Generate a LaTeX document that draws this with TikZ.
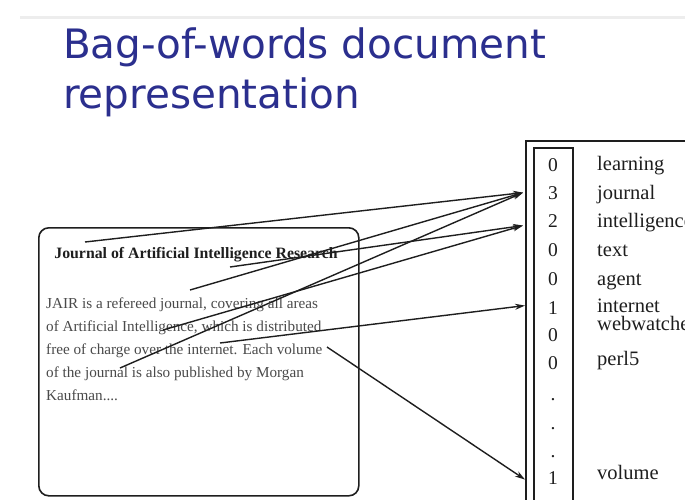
\documentclass[tikz,border=0pt]{standalone}
\usepackage{fontspec}
\setmainfont{Liberation Serif}
\newfontfamily\titlefont{DejaVu Sans}
\usetikzlibrary{arrows.meta}
\definecolor{titleblue}{HTML}{2B2F8E}
\definecolor{bodygray}{HTML}{4A4A4A}
\definecolor{inkgray}{HTML}{1E1E1E}
\begin{document}
\begin{tikzpicture}[x=1pt,y=-1pt,
  titletext/.style={anchor=base west, inner sep=0, text=titleblue, font=\titlefont\fontsize{40.5}{42}\selectfont},
  boxline/.style={draw=inkgray, line width=1.6pt},
  doctitle/.style={anchor=base, inner sep=0, text=inkgray, font=\bfseries\fontsize{15.8}{18}\selectfont},
  doctext/.style={anchor=base west, inner sep=0, text=bodygray, font=\fontsize{15.2}{18}\selectfont},
  numtext/.style={anchor=base, inner sep=0, text=inkgray, font=\fontsize{19.5}{20}\selectfont},
  wordtext/.style={anchor=base west, inner sep=0, text=inkgray, font=\fontsize{20.5}{22}\selectfont},
  arr/.style={draw=inkgray, line width=1.4pt, -{Stealth[length=10pt,width=6pt]}}
]
\useasboundingbox (0,0) rectangle (685,499);
\clip (0,0) rectangle (685,499);
\fill[white] (0,0) rectangle (685,499);
% faint top rule
\draw[black!7, line width=3pt] (20,17) -- (685,17);
% title
\node[titletext] (t1) at (63,58) {Bag-of-words document};
\node[titletext] (t2) at (63,108) {representation};
% document box
\node[boxline, rounded corners=10pt, minimum width=320pt, minimum height=268pt, anchor=north west, inner sep=0] (doc) at (38,227) {};
\node[doctitle] (dt) at (196,258) {Journal of Artificial Intelligence Research};
\node[doctext] (l1) at (46,308) {JAIR is a refereed journal, covering all areas};
\node[doctext] (l2) at (46,331) {of Artificial Intelligence, which is distributed};
\node[doctext] (l3) at (46,354) {free of charge over the internet. Each volume};
\node[doctext] (l4) at (46,377) {of the journal is also published by Morgan};
\node[doctext] (l5) at (46,400) {Kaufman....};
% vector frames
\node[boxline, minimum width=200pt, minimum height=420pt, anchor=north west, inner sep=0] (outer) at (525,140) {};
\node[boxline, minimum width=39pt, minimum height=420pt, anchor=north west, inner sep=0] (inner) at (533,147) {};
% counts
\node[numtext] (n1) at (553,171) {0};
\node[numtext] (n2) at (553,199) {3};
\node[numtext] (n3) at (553,227) {2};
\node[numtext] (n4) at (553,256) {0};
\node[numtext] (n5) at (553,285) {0};
\node[numtext] (n6) at (553,314) {1};
\node[numtext] (n7) at (553,341) {0};
\node[numtext] (n8) at (553,369) {0};
\node[numtext] (d1) at (553,400) {.};
\node[numtext] (d2) at (553,429) {.};
\node[numtext] (d3) at (553,457) {.};
\node[numtext] (n9) at (553,484) {1};
% words
\node[wordtext] (w1) at (597,170) {learning};
\node[wordtext] (w2) at (597,199) {journal};
\node[wordtext] (w3) at (597,227) {intelligence};
\node[wordtext] (w4) at (597,256) {text};
\node[wordtext] (w5) at (597,285) {agent};
\node[wordtext] (w6) at (597,312) {internet};
\node[wordtext] (w7) at (597,330) {webwatcher};
\node[wordtext] (w8) at (597,365) {perl5};
\node[wordtext] (w9) at (597,479) {volume};
% arrow sources
\coordinate (sJt) at (85,242);
\coordinate (sIt) at (230,267);
\coordinate (sJ1) at (190,290);
\coordinate (sI2) at (163,330);
\coordinate (sN3) at (220,343);
\coordinate (sV3) at (327,347);
\coordinate (sJ4) at (120,368);
% arrow targets on the outer frame
\coordinate (tJ) at (outer.west |- n2);
\coordinate (tI) at ([yshift=-5pt]outer.west |- n3);
\coordinate (tN) at ([yshift=2pt]outer.west |- n6);
\coordinate (tV) at ([yshift=-2pt]outer.west |- n9);
\draw[arr] (sJt) -- ([xshift=-2pt]tJ);
\draw[arr] (sJ1) -- ([xshift=-2pt]tJ);
\draw[arr] (sJ4) -- ([xshift=-2pt]tJ);
\draw[arr] (sIt) -- ([xshift=-2pt]tI);
\draw[arr] (sI2) -- ([xshift=-2pt]tI);
\draw[arr] (sN3) -- (tN);
\draw[arr] (sV3) -- (tV);
\end{tikzpicture}
\end{document}
